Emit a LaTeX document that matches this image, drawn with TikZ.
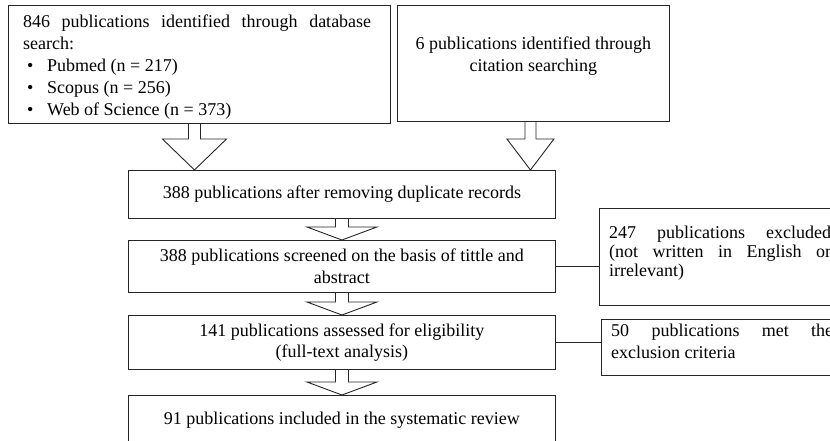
\documentclass[tikz,border=0pt]{standalone}
\usepackage{fontspec}
\setmainfont{Liberation Serif}
\usetikzlibrary{positioning,calc}
% hollow block arrow: tail, tip, half shaft, half head, head length
\newcommand{\blockarrow}[5]{%
  \draw[blockarr] ($(#1)+(-#3,0)$) -- ($(#2)+(-#3,-#5)$) -- ($(#2)+(-#4,-#5)$) -- (#2)
    -- ($(#2)+(#4,-#5)$) -- ($(#2)+(#3,-#5)$) -- ($(#1)+(#3,0)$);}
\begin{document}
\begin{tikzpicture}[x=1pt, y=-1pt, line join=miter, font=\fontsize{18}{21.5}\selectfont,
  box/.style={draw=black!85, line width=0.9pt, anchor=north west, inner sep=0pt, align=center},
  txt/.style={inner sep=0pt, align=left},
  blockarr/.style={draw=black!85, line width=0.9pt}]
\useasboundingbox (0,0) rectangle (830,441);
%Các hộp chính
\node[box, minimum width=382pt, minimum height=118pt] (db) at (8,5) {};
\node[txt, font=\fontsize{18}{22}\selectfont, below right=10pt and 15pt of db.north west] (dbtxt)
  {\hbox to 348pt{846\hfill publications\hfill identified\hfill through\hfill database}\\
   search:\\
   \hspace*{4pt}\makebox[20pt][l]{\textbullet}Pubmed (n = 217)\\
   \hspace*{4pt}\makebox[20pt][l]{\textbullet}Scopus (n = 256)\\
   \hspace*{4pt}\makebox[20pt][l]{\textbullet}Web of Science (n = 373)};
\node[box, minimum width=272pt, minimum height=116pt] (cit) at (397,5) {};
\node[txt, align=center, below=32pt of cit.north] (cittxt)
  {6 publications identified through\\ citation searching};
\node[box, minimum width=427pt, minimum height=48pt] (dup) at (128,170)
  {388 publications after removing duplicate records};
\node[box, minimum width=427pt, minimum height=52pt] (scr) at (128,240)
  {388 publications screened on the basis of tittle and\\ abstract};
\node[box, minimum width=427pt, minimum height=54pt] (elig) at (128,315)
  {141 publications assessed for eligibility\\ (full-text analysis)};
\node[box, minimum width=427pt, minimum height=50pt] (incl) at (128,395)
  {91 publications included in the systematic review};
%Các hộp loại trừ
\node[box, minimum width=240pt, minimum height=97pt] (exa) at (599,208) {};
\node[txt, font=\fontsize{18}{19}\selectfont, below right=18pt and 10pt of exa.north west] (exatxt)
  {\hbox to 222pt{247\hfill publications\hfill excluded}\\
   \hbox to 222pt{(not\hfill written\hfill in\hfill English\hfill or}\\
   irrelevant)};
\node[box, minimum width=240pt, minimum height=56pt] (exb) at (601,319) {};
\node[txt, below right=5pt and 10pt of exb.north west] (exbtxt)
  {\hbox to 222pt{50\hfill publications\hfill met\hfill the}\\
   exclusion criteria};
\draw[blockarr] (scr.east) -- (scr.east -| exa.west)
  (elig.east) -- (elig.east -| exb.west);
%Mũi tên
\coordinate (t1) at ($(db.south west)!0.487!(db.south east)$);
\coordinate (h1) at (t1 |- dup.north);
\coordinate (t2) at ($(cit.south west)!0.489!(cit.south east)$);
\coordinate (h2) at (t2 |- dup.north);
\blockarrow{t1}{h1}{6}{32}{31}
\blockarrow{t2}{h2}{5.5}{23.5}{31}
\blockarrow{dup.south}{scr.north}{6.5}{35}{13}
\blockarrow{scr.south}{elig.north}{6.5}{35}{13}
\blockarrow{elig.south}{incl.north}{6.5}{35}{13}
\end{tikzpicture}
\end{document}
